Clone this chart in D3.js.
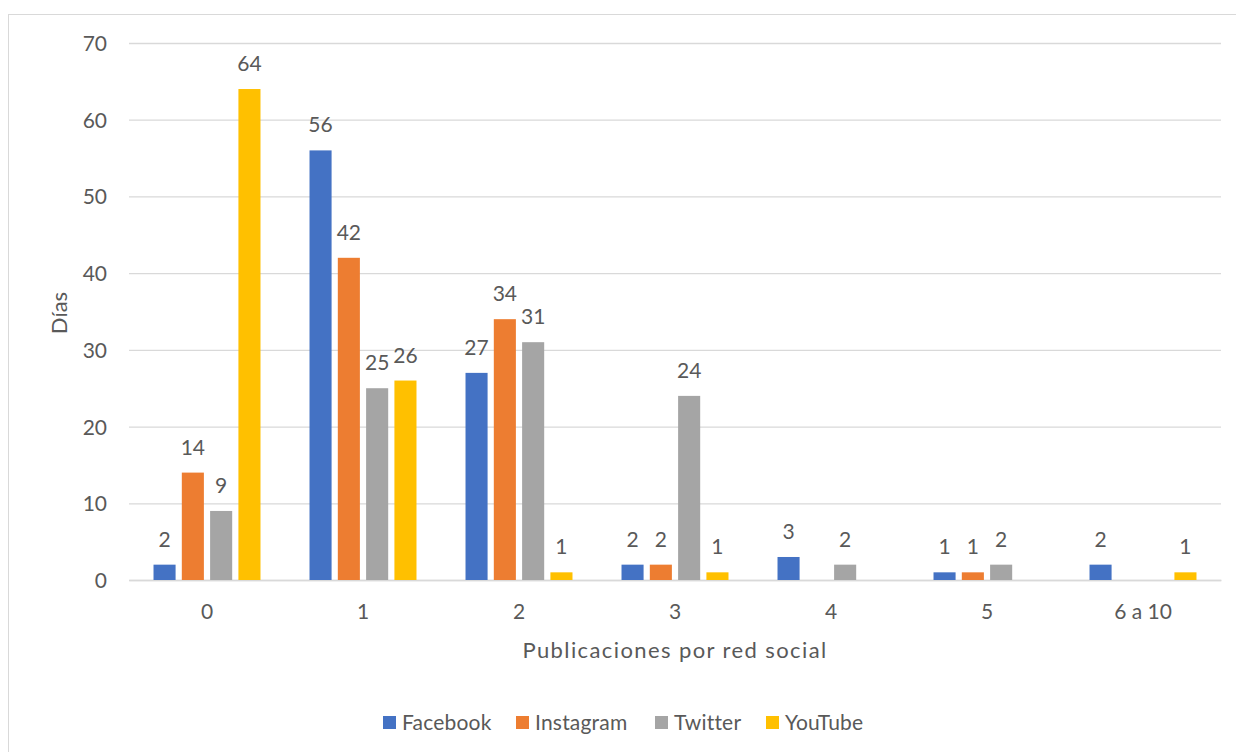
<!DOCTYPE html>
<html>
<head>
<meta charset="utf-8">
<script src="https://cdn.jsdelivr.net/npm/d3@7"></script>
<style>
html,body{margin:0;padding:0;background:#fff;}
svg text{font-family:Lato,"Open Sans",sans-serif;fill:#595959;}
</style>
</head>
<body>
<svg id="chart" width="1236" height="752"></svg>
<script>
const categories = ["0","1","2","3","4","5","6 a 10"];
const seriesNames = ["Facebook","Instagram","Twitter","YouTube"];
const seriesColors = ["#4472C4","#ED7D31","#A5A5A5","#FFC000"];
const facebook  = [2,56,27,2,3,1,2];
const instagram = [14,42,34,2,0,1,0];
const twitter   = [9,25,31,24,2,2,0];
const youtube   = [64,26,1,1,0,0,1];
const yTicks = [0,10,20,30,40,50,60,70];
const xTitle = "Publicaciones por red social";
const yTitle = "Días";

const seriesValues = [facebook, instagram, twitter, youtube];

const svg = d3.select("#chart");
const fs = 21;

// outer border
svg.append("rect").attr("x",8.5).attr("y",14.5).attr("width",1400).attr("height",900)
  .attr("fill","none").attr("stroke","#d9d9d9").attr("stroke-width",1);

const x = d3.scaleBand().domain(categories).range([129,1221]).padding(0);
const xs = d3.scaleBand().domain(seriesNames).range([-56.6,56.6]).paddingInner(0.22).paddingOuter(0.11);
const y = d3.scaleLinear().domain([0,70]).range([580,43]);

// gridlines
const yAxis = d3.axisLeft(y).tickValues(yTicks).tickSize(-(1221-129)).tickFormat(d3.format("d")).tickPadding(22);
const gy = svg.append("g").attr("transform","translate(129,0)").call(yAxis);
gy.select(".domain").remove();
gy.selectAll(".tick line").attr("stroke","#d9d9d9").attr("stroke-width",1.3);
gy.selectAll(".tick text").style("font-size",fs+"px").attr("fill","#595959").attr("dy","0.36em");

// x axis
const xAxis = d3.axisBottom(x).tickSize(0).tickPadding(24);
const gx = svg.append("g").attr("transform","translate(0,580)").call(xAxis);
gx.select(".domain").attr("stroke","#d9d9d9").attr("stroke-width",1.3);
gx.selectAll(".tick text").style("font-size",fs+"px").attr("fill","#595959");

// bars
const data = [];
categories.forEach((c,i)=>{
  seriesNames.forEach((s,j)=>{
    data.push({cat:c, series:s, color:seriesColors[j], value:seriesValues[j][i]});
  });
});
const bars = svg.append("g");
bars.selectAll("rect").data(data.filter(d=>d.value>0)).join("rect")
  .attr("x",d=>x(d.cat)+x.bandwidth()/2+xs(d.series))
  .attr("width",xs.bandwidth())
  .attr("y",d=>y(d.value))
  .attr("height",d=>y(0)-y(d.value))
  .attr("fill",d=>d.color);

bars.selectAll("text").data(data.filter(d=>d.value>0)).join("text")
  .attr("x",d=>x(d.cat)+x.bandwidth()/2+xs(d.series)+xs.bandwidth()/2)
  .attr("y",d=>y(d.value)-18)
  .attr("text-anchor","middle")
  .style("font-size",fs+"px")
  .text(d=>d.value);

// axis titles
svg.append("text").attr("x",675).attr("y",658).attr("text-anchor","middle")
  .style("font-size","22px").style("letter-spacing","1.4px").text(xTitle);
svg.append("text").attr("transform","translate(67,313) rotate(-90)").attr("text-anchor","middle")
  .style("font-size","22px").text(yTitle);

// legend
const legendX = [383,516,655,766];
const lg = svg.append("g");
seriesNames.forEach((s,j)=>{
  lg.append("rect").attr("x",legendX[j]).attr("y",716).attr("width",13).attr("height",13).attr("fill",seriesColors[j]);
  lg.append("text").attr("x",legendX[j]+19).attr("y",730).style("font-size",fs+"px").style("letter-spacing","0.2px").text(s);
});
</script>
</body>
</html>
